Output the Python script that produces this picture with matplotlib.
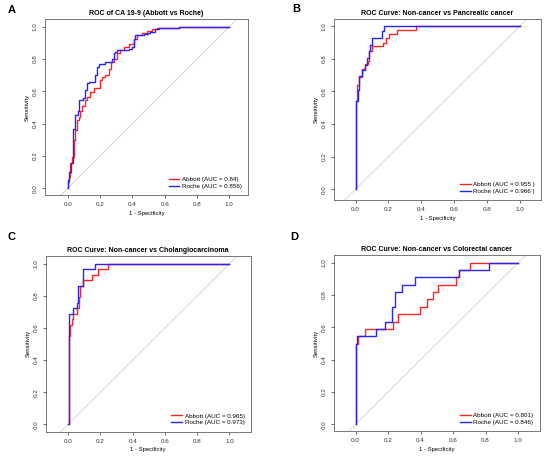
import numpy as np
import matplotlib
matplotlib.use('Agg')
import matplotlib.pyplot as plt

plt.rcParams['font.family'] = ['Liberation Sans', 'DejaVu Sans']

# ROC points: at each FPR value the curve rises to the given TPR (step curve)
# Panel A - CA 19-9
a_abbott_fpr = [0, 0.005, 0.01, 0.016, 0.027, 0.037, 0.047, 0.058, 0.068, 0.078, 0.09, 0.105,
                0.119, 0.14, 0.16, 0.2, 0.212, 0.233, 0.253, 0.27, 0.284, 0.305, 0.325, 0.346,
                0.377, 0.408, 0.428, 0.46, 0.49, 0.52, 0.55, 0.69, 1.0]
a_abbott_tpr = [0, 0.04, 0.072, 0.154, 0.196, 0.3, 0.36, 0.42, 0.44, 0.48, 0.51, 0.546,
                0.566, 0.597, 0.618, 0.67, 0.69, 0.70, 0.741, 0.783, 0.80, 0.835, 0.855, 0.876,
                0.896, 0.927, 0.948, 0.962, 0.972, 0.983, 0.99, 1.0, 1.0]
a_roche_fpr = [0, 0.003, 0.011, 0.02, 0.031, 0.035, 0.047, 0.064, 0.072, 0.093, 0.105, 0.119,
               0.13, 0.171, 0.181, 0.192, 0.23, 0.274, 0.284, 0.295, 0.305, 0.377, 0.398,
               0.408, 0.418, 0.47, 0.5, 0.51, 0.542, 0.563, 0.69, 1.0]
a_roche_tpr = [0, 0.05, 0.103, 0.154, 0.237, 0.37, 0.453, 0.48, 0.546, 0.56, 0.608, 0.649,
               0.659, 0.70, 0.752, 0.772, 0.78, 0.80, 0.835, 0.845, 0.855, 0.865, 0.876,
               0.927, 0.948, 0.954, 0.958, 0.965, 0.983, 0.99, 1.0, 1.0]

# Panel B - pancreatic cancer
b_abbott_fpr = [0, 0.004, 0.012, 0.024, 0.04, 0.055, 0.075, 0.085, 0.1, 0.167, 0.183, 0.203,
                0.254, 0.37, 1.0]
b_abbott_tpr = [0, 0.54, 0.64, 0.69, 0.74, 0.77, 0.79, 0.85, 0.877, 0.9, 0.927, 0.952,
                0.975, 1.0, 1.0]
b_roche_fpr = [0, 0.004, 0.014, 0.024, 0.041, 0.059, 0.071, 0.081, 0.091, 0.102, 0.161, 0.173, 1.0]
b_roche_tpr = [0, 0.539, 0.61, 0.692, 0.733, 0.764, 0.805, 0.846, 0.887, 0.928, 0.969, 1.0, 1.0]

# Panel C - cholangiocarcinoma
c_abbott_fpr = [0, 0.003, 0.005, 0.011, 0.021, 0.031, 0.052, 0.064, 0.072, 0.093, 0.145,
                0.186, 0.248, 1.0]
c_abbott_tpr = [0, 0.48, 0.552, 0.621, 0.655, 0.69, 0.724, 0.793, 0.862, 0.897, 0.931,
                0.966, 1.0, 1.0]
c_roche_fpr = [0, 0.002, 0.031, 0.052, 0.062, 0.094, 0.166, 1.0]
c_roche_tpr = [0, 0.69, 0.724, 0.759, 0.862, 0.966, 1.0, 1.0]

# Panel D - colorectal cancer
d_abbott_fpr = [0, 0.003, 0.015, 0.06, 0.23, 0.261, 0.394, 0.441, 0.476, 0.507, 0.616,
                0.635, 0.702, 1.0]
d_abbott_tpr = [0, 0.5, 0.545, 0.591, 0.636, 0.682, 0.727, 0.773, 0.818, 0.864, 0.909,
                0.955, 1.0, 1.0]
d_roche_fpr = [0, 0.0, 0.01, 0.123, 0.183, 0.224, 0.244, 0.286, 0.364, 0.635, 0.822, 1.0]
d_roche_tpr = [0, 0.5, 0.545, 0.591, 0.636, 0.727, 0.818, 0.864, 0.909, 0.955, 1.0, 1.0]

panels = [
    dict(letter='A', title='ROC of CA 19-9 (Abbott vs Roche)',
         rect=[0.0818, 0.578, 0.369, 0.381], xlim=(-0.14, 1.115), ylim=(-0.041, 1.048),
         curves=[(a_abbott_fpr, a_abbott_tpr, 'Abbott (AUC = 0.84)'),
                 (a_roche_fpr, a_roche_tpr, 'Roche (AUC = 0.856)')],
         letter_pos=(0.021, 0.978)),
    dict(letter='B', title='ROC Curve: Non-cancer vs Pancreatic cancer',
         rect=[0.607, 0.567, 0.377, 0.392], xlim=(-0.132, 1.132), ylim=(-0.066, 1.045),
         curves=[(b_abbott_fpr, b_abbott_tpr, 'Abbott (AUC = 0.955 )'),
                 (b_roche_fpr, b_roche_tpr, 'Roche (AUC = 0.966 )')],
         letter_pos=(0.538, 0.98)),
    dict(letter='C', title='ROC Curve: Non-cancer vs Cholangiocarcinoma',
         rect=[0.083, 0.0656, 0.373, 0.380], xlim=(-0.14, 1.133), ylim=(-0.046, 1.048),
         curves=[(c_abbott_fpr, c_abbott_tpr, 'Abbott (AUC = 0.965)'),
                 (c_roche_fpr, c_roche_tpr, 'Roche (AUC = 0.973)')],
         letter_pos=(0.020, 0.487)),
    dict(letter='D', title='ROC Curve: Non-cancer vs Colorectal cancer',
         rect=[0.607, 0.067, 0.3745, 0.381], xlim=(-0.134, 1.134), ylim=(-0.041, 1.048),
         curves=[(d_abbott_fpr, d_abbott_tpr, 'Abbott (AUC = 0.801)'),
                 (d_roche_fpr, d_roche_tpr, 'Roche (AUC = 0.846)')],
         letter_pos=(0.536, 0.487)),
]

colors = ['#ff2424', '#2424ff']
ticks = np.arange(0, 1.01, 0.2)

fig = plt.figure(figsize=(5.5, 4.62), dpi=100)

for p in panels:
    ax = fig.add_axes(p['rect'])
    ax.plot([-1, 2], [-1, 2], color='#cfcfcf', linewidth=0.6, zorder=1)
    for (fpr, tpr, lab), col in zip(p['curves'], colors):
        ax.plot(fpr, tpr, drawstyle='steps-post', color=col, linewidth=1.0, label=lab, zorder=2)
    ax.set_xlim(*p['xlim'])
    ax.set_ylim(*p['ylim'])
    ax.set_xticks(ticks)
    ax.set_yticks(ticks)
    ax.set_xticklabels(['%.1f' % t for t in ticks])
    ax.set_yticklabels(['%.1f' % t for t in ticks], rotation=90, va='center')
    ax.tick_params(length=2.2, width=0.5, pad=3, labelsize=4.5, colors='#333333')
    for s in ax.spines.values():
        s.set_color('#777777')
        s.set_linewidth(0.7)
    ax.set_title(p['title'], fontsize=5, fontweight='bold', pad=3)
    ax.set_xlabel('1 - Specificity', fontsize=4.2, labelpad=2.5)
    ax.set_ylabel('Sensitivity', fontsize=4.2, labelpad=2)
    ax.legend(loc='lower right', frameon=False, fontsize=4.5, handlelength=1.7,
              handletextpad=0.4, labelspacing=0.25, borderaxespad=0.6)
    fig.text(p['letter_pos'][0], p['letter_pos'][1], p['letter'], fontsize=8,
             fontweight='bold', ha='center', va='center')

fig.savefig('out.png', dpi=100)
